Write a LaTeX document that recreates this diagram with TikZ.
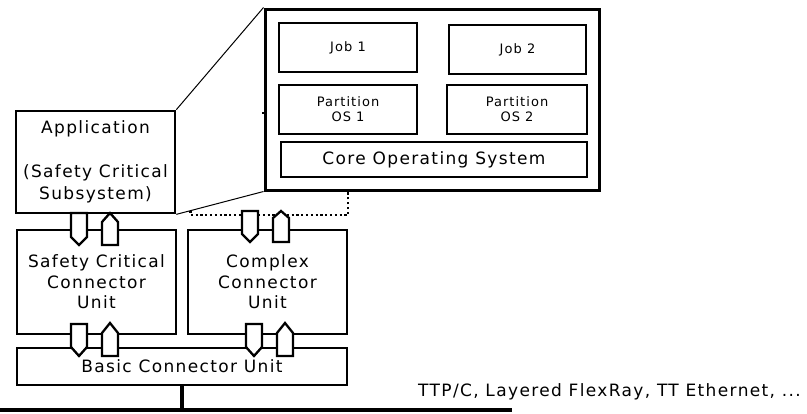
\documentclass[tikz,border=0pt]{standalone}
\usepackage{fontspec}
\setmainfont[LetterSpace=8]{DejaVu Sans}
\usetikzlibrary{calc}
\newcommand\portdown[4]{\draw[port] (#1,#2) -- (#1+16,#2) -- (#1+16,#3) -- (#1+8,#4) -- (#1,#3) -- cycle;}
\newcommand\portup[4]{\draw[port] (#1,#4) -- (#1+16,#4) -- (#1+16,#3) -- (#1+8,#2) -- (#1,#3) -- cycle;}
\begin{document}
\begin{tikzpicture}[x=1pt,y=-1pt,
  box/.style={draw, line width=2.7pt, inner sep=0pt, align=center,
    font=\fontsize{17}{20.5}\selectfont},
  bigbox/.style={draw, line width=3pt, inner sep=0pt},
  inbox/.style={draw, line width=1.5pt, inner sep=0pt, align=center,
    font=\fontsize{13}{15}\selectfont},
  port/.style={draw, fill=white, line width=2.3pt, line join=miter},
  thinline/.style={line width=1pt},
  dotline/.style={line width=2.7pt, dash pattern=on 2.3pt off 2.5pt},
  busline/.style={line width=3.2pt},
  lbl/.style={inner sep=0pt, font=\fontsize{17}{20}\selectfont}]
\useasboundingbox (0,0) rectangle (807,413);
\fill[white] (0,0) rectangle (807,413);

% outer boxes
\node[box, minimum width=159pt, minimum height=102pt,
  font=\fontsize{17}{22}\selectfont] (app) at (95.5,162)
  {Application\\[22pt](Safety Critical\\Subsystem)};
\node[box, minimum width=159pt, minimum height=104pt] (sccu) at (96.5,282)
  {Safety Critical\\Connector\\Unit};
\node[box, minimum width=159pt, minimum height=104pt] (ccu) at (267.5,282)
  {Complex\\Connector\\Unit};
\node[box, minimum width=330pt, minimum height=37pt] (bcu) at (182,366.5)
  {Basic Connector Unit};

% zoomed processor
\node[bigbox, minimum width=334pt, minimum height=181pt] (big) at (432,99.5) {};
\node[inbox, minimum width=138pt, minimum height=49pt] (job1) at (348,47.5) {Job 1};
\node[inbox, minimum width=137pt, minimum height=49pt] (job2) at (517.5,49.5) {Job 2};
\node[inbox, minimum width=138pt, minimum height=49pt] (pos1) at (348,109.5) {Partition\\OS 1};
\node[inbox, minimum width=140pt, minimum height=49pt] (pos2) at (517,109.5) {Partition\\OS 2};
\node[inbox, minimum width=306pt, minimum height=35pt,
  font=\fontsize{17}{20}\selectfont] (core) at (434,159.5) {Core Operating System};
\fill (262,112) rectangle (264,114);

% zoom lines
\draw[thinline] (app.north east) -- (big.north west);
\draw[thinline] (app.south east) -- (big.south west);

% dotted link
\coordinate (d0) at ($(app.south east)!0.16!(big.south west)$);
\coordinate (dm) at (348,215);
\coordinate (d1) at (348,190);
\draw[dotline] (d0) |- (dm) -- (d1);

% ports
\portdown{71}{213}{237}{245}
\portup{102}{213}{222}{245}
\portdown{71}{324}{347}{356}
\portup{102}{323}{333}{356}
\portdown{242}{211}{234}{242}
\portup{273}{211}{218}{242}
\portdown{246}{324}{347}{356}
\portup{277}{323}{333}{356}

% bus
\coordinate (bus) at (182,410);
\coordinate (busL) at (0,410);
\coordinate (busR) at (512,410);
\draw[busline] (bcu.south) -- (bus);
\draw[busline] (busL) -- (busR);
\node[lbl, anchor=west] (net) at (418,392) {TTP/C, Layered FlexRay, TT Ethernet, ...};
\end{tikzpicture}
\end{document}
